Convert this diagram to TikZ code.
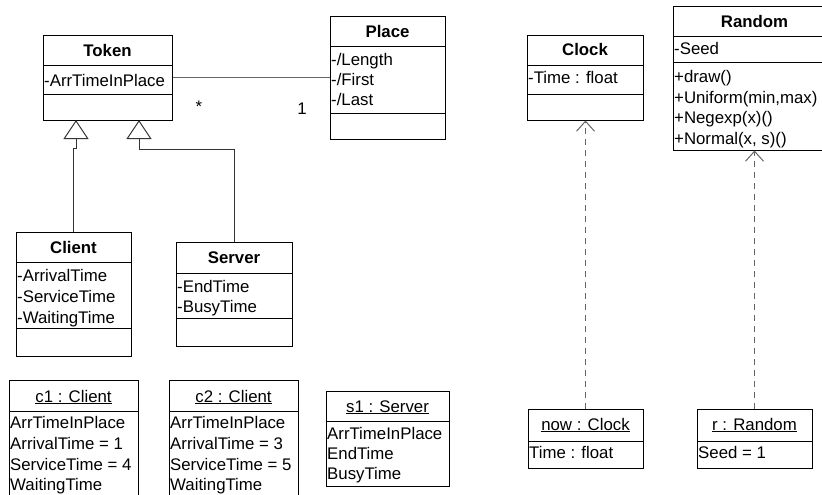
\documentclass[tikz,border=0pt]{standalone}
\usepackage{fontspec}
\setmainfont{Liberation Sans}
\usetikzlibrary{arrows.meta}

\newcommand{\umlfont}{\fontsize{16.8}{20.5}\selectfont}

\tikzset{
  cls/.style={draw, line width=1pt, rectangle, inner sep=0pt},
  sep/.style={line width=1pt},
  attr/.style={anchor=west, inner sep=0pt, text height=12pt, text depth=0pt},
  cname/.style={inner sep=0pt, text height=12pt, text depth=0pt, font=\umlfont\bfseries},
  mult/.style={inner sep=0pt, text height=12pt, text depth=0pt},
  assoc/.style={draw=black!60, line width=1pt},
  inherit/.style={draw=black!80, line width=0.8pt, -{Triangle[open, length=19pt, width=25pt, line width=1pt]}},
  depend/.style={draw=black!60, line width=0.9pt, dash pattern=on 6pt off 5pt, -{Straight Barb[length=10pt, width=18pt, line width=1pt]}}
}

\begin{document}
\begin{tikzpicture}[x=1pt, y=-1pt, font=\umlfont]
      \clip (0,0) rectangle (822,495);

      \node[cls, minimum width=129pt, minimum height=84pt] (token) at (107.5,78) {};
      \draw[sep] (43,66) -- (172,66) (43,94) -- (172,94);
      \node[cname] (tokenname) at (107.5,51) {Token};
      \node[attr] (tokenarr) at (44,80) {-ArrTimeInPlace};

      \node[cls, minimum width=115pt, minimum height=122pt] (place) at (387.5,78) {};
      \draw[sep] (330,47) -- (445,47) (330,113) -- (445,113);
      \node[cname] (placename) at (387.5,32) {Place};
      \node[attr] (placelen) at (331,60) {-/Length};
      \node[attr] (placefirst) at (331,79) {-/First};
      \node[attr] (placelast) at (331,100) {-/Last};

      \draw[assoc] (token) -- (place);
      \node[mult] (many) at (199,106.5) {*};
      \node[mult] (one) at (302,108) {1};

      \node[cls, minimum width=115pt, minimum height=124pt] (client) at (73.5,294) {};
      \draw[sep] (16,262) -- (131,262) (16,328) -- (131,328);
      \node[cname] (clientname) at (73.5,247) {Client};
      \node[attr] (clientarr) at (17,275) {-ArrivalTime};
      \node[attr] (clientserv) at (17,296) {-ServiceTime};
      \node[attr] (clientwait) at (17,317) {-WaitingTime};

      \node[cls, minimum width=116pt, minimum height=104pt] (server) at (234,294) {};
      \draw[sep] (176,273) -- (292,273) (176,318) -- (292,318);
      \node[cname] (servername) at (234,257) {Server};
      \node[attr] (serverend) at (177,286) {-EndTime};
      \node[attr] (serverbusy) at (177,306) {-BusyTime};

      \coordinate (gen1) at (76,120);
      \coordinate (gen2) at (139,120);
      \draw[inherit] (client.north) |- (76,148) -- (gen1);
      \draw[inherit] (server.north) |- (139,149) -- (gen2);

      \node[cls, minimum width=129pt, minimum height=125pt] (cone) at (73.5,442.5) {};
      \draw[sep] (9,411) -- (138,411);
      \node[mult] (conename) at (73.5,396) {\underline{c1 : Client}};
      \node[attr] at (10,422) {ArrTimeInPlace};
      \node[attr] at (10,443) {ArrivalTime = 1};
      \node[attr] at (10,464) {ServiceTime = 4};
      \node[attr] at (10,484) {WaitingTime};

      \node[cls, minimum width=129pt, minimum height=125pt] (ctwo) at (233.5,442.5) {};
      \draw[sep] (169,411) -- (298,411);
      \node[mult] (ctwoname) at (233.5,396) {\underline{c2 : Client}};
      \node[attr] at (170,422) {ArrTimeInPlace};
      \node[attr] at (170,443) {ArrivalTime = 3};
      \node[attr] at (170,464) {ServiceTime = 5};
      \node[attr] at (170,484) {WaitingTime};

      \node[cls, minimum width=123pt, minimum height=95pt] (sone) at (387.5,438.5) {};
      \draw[sep] (326,421) -- (449,421);
      \node[mult] (sonename) at (387.5,406) {\underline{s1 : Server}};
      \node[attr] at (327,433) {ArrTimeInPlace};
      \node[attr] at (327,453) {EndTime};
      \node[attr] at (327,473) {BusyTime};

      \node[cls, minimum width=116pt, minimum height=84pt] (clock) at (585,78) {};
      \draw[sep] (527,66) -- (643,66) (527,94) -- (643,94);
      \node[cname] (clockname) at (585,50) {Clock};
      \node[attr] (clocktime) at (528,78) {-Time : float};

      \node[cls, minimum width=163pt, minimum height=143pt] (random) at (754.5,78.5) {};
      \draw[sep] (673,37) -- (836,37) (673,63) -- (836,63);
      \node[cname] (randomname) at (754.5,22) {Random};
      \node[attr] (randomseed) at (674,49) {-Seed};
      \node[attr] at (674,77) {+draw()};
      \node[attr] at (674,97) {+Uniform(min,max)};
      \node[attr] at (674,117) {+Negexp(x)()};
      \node[attr] at (674,138) {+Normal(x, s)()};

      \node[cls, minimum width=115pt, minimum height=59pt] (now) at (585.5,438.5) {};
      \draw[sep] (528,441) -- (643,441);
      \node[mult] (nowname) at (585.5,424) {\underline{now : Clock}};
      \node[attr] at (529,452) {Time : float};

      \node[cls, minimum width=115pt, minimum height=59pt] (rnd) at (754.5,438.5) {};
      \draw[sep] (697,441) -- (812,441);
      \node[mult] (rndname) at (754.5,424) {\underline{r : Random}};
      \node[attr] at (698,452) {Seed = 1};

      \draw[depend] (now.north) -- (now.north |- clock.south);
      \draw[depend] (rnd.north) -- (rnd.north |- random.south);
\end{tikzpicture}
\end{document}
